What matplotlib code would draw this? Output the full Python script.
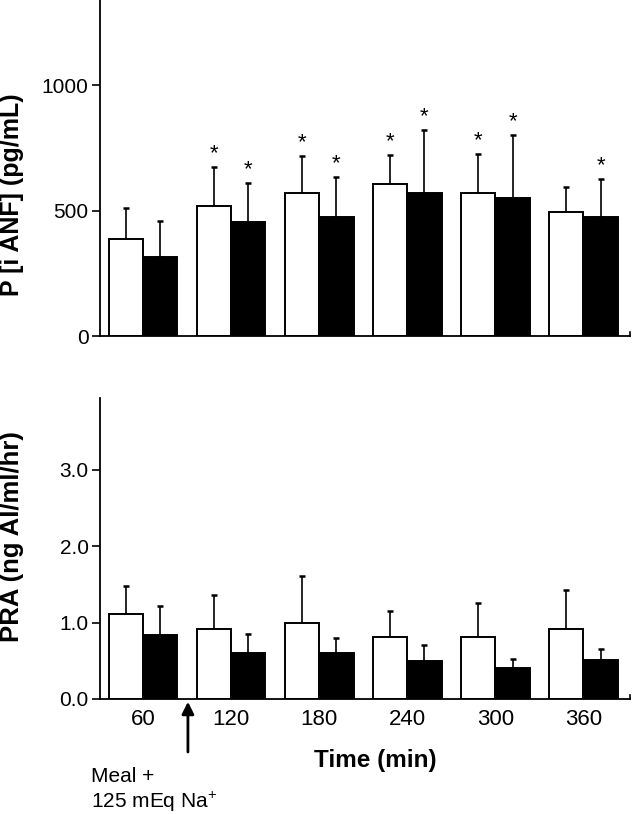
import matplotlib
matplotlib.use('Agg')
import matplotlib.pyplot as plt
import numpy as np

plt.rcParams['font.family'] = ['Liberation Sans', 'DejaVu Sans']
plt.rcParams['mathtext.fontset'] = 'custom'
plt.rcParams['mathtext.rm'] = 'Liberation Sans'

# data
times = ['60', '120', '180', '240', '300', '360']

anf_white = [386, 518, 570, 605, 570, 494]
anf_white_err = [124, 155, 147, 116, 155, 100]
anf_black = [315, 454, 474, 570, 550, 474]
anf_black_err = [143, 155, 159, 251, 251, 151]
anf_white_star = [False, True, True, True, True, False]
anf_black_star = [False, True, True, True, True, True]

pra_white = [1.11, 0.92, 1.00, 0.81, 0.81, 0.92]
pra_white_err = [0.37, 0.44, 0.61, 0.34, 0.45, 0.50]
pra_black = [0.84, 0.60, 0.60, 0.50, 0.41, 0.51]
pra_black_err = [0.38, 0.25, 0.20, 0.20, 0.11, 0.14]

fig = plt.figure(figsize=(6.32, 8.14), dpi=100)
ax1 = fig.add_axes([0.158, 0.587, 0.839, 0.413])
ax2 = fig.add_axes([0.158, 0.1413, 0.839, 0.370])

x = np.arange(len(times))
w = 0.39


def draw(ax, white, werr, black, berr):
    ax.bar(x - w / 2, white, w, color='white', edgecolor='black', linewidth=1.4, zorder=2)
    ax.bar(x + w / 2, black, w, color='black', edgecolor='black', linewidth=1.4, zorder=2)
    ax.errorbar(x - w / 2, white, yerr=[np.zeros(len(x)), werr], fmt='none',
                ecolor='black', elinewidth=1.2, capsize=2.5, capthick=1.8, zorder=1)
    ax.errorbar(x + w / 2, black, yerr=[np.zeros(len(x)), berr], fmt='none',
                ecolor='black', elinewidth=1.2, capsize=2.5, capthick=1.8, zorder=1)
    ax.set_xlim(-0.49, 5.53)
    for s in ['top', 'right']:
        ax.spines[s].set_visible(False)
    ax.spines['left'].set_linewidth(1.3)
    ax.spines['bottom'].set_linewidth(1.3)
    ax.tick_params(axis='y', direction='out', length=6, width=1.2, labelsize=15, pad=2)
    ax.tick_params(axis='x', length=0)
    # small end mark at the right of the x axis
    ax.plot([1, 1], [0, 0.012], transform=ax.transAxes, color='black', lw=1.2, clip_on=False)


draw(ax1, anf_white, anf_white_err, anf_black, anf_black_err)
ax1.set_ylim(0, 1340)
ax1.set_yticks([0, 500, 1000])
ax1.set_xticks([])
ax1.set_ylabel('P [i ANF] (pg/mL)', fontsize=18, fontweight='bold')
ax1.yaxis.set_label_coords(-0.143, 0.421)

for i in range(len(x)):
    if anf_white_star[i]:
        ax1.annotate('*', (x[i] - w / 2, anf_white[i] + anf_white_err[i]),
                     xytext=(0, 2), textcoords='offset points', ha='center', va='bottom', fontsize=16)
    if anf_black_star[i]:
        ax1.annotate('*', (x[i] + w / 2, anf_black[i] + anf_black_err[i]),
                     xytext=(0, 2), textcoords='offset points', ha='center', va='bottom', fontsize=16)

draw(ax2, pra_white, pra_white_err, pra_black, pra_black_err)
ax2.set_ylim(0, 3.94)
ax2.set_yticks([0, 1, 2, 3])
ax2.set_yticklabels(['0.0', '1.0', '2.0', '3.0'])
ax2.set_xticks(x)
ax2.set_xticklabels(times, fontsize=16)
ax2.tick_params(axis='x', pad=7)
ax2.set_ylabel('PRA (ng AI/ml/hr)', fontsize=18.5, fontweight='bold')
ax2.yaxis.set_label_coords(-0.143, 0.54)
ax2.set_xlabel('Time (min)', fontsize=17.5, fontweight='bold', va='center')
ax2.xaxis.set_label_coords(0.519, -0.203)

ax2.annotate('', xy=(0.51, 0), xytext=(0.51, -0.73), xycoords='data',
             arrowprops=dict(arrowstyle='-|>', color='black', lw=2, mutation_scale=18),
             annotation_clip=False)
fig.text(91 / 632, 1 - 776 / 814, 'Meal +', fontsize=15, va='center', ha='left')
fig.text(91 / 632, 1 - 802 / 814, '125 mEq Na$^{+}$', fontsize=15, va='center', ha='left')

fig.savefig('out.png', dpi=100)
